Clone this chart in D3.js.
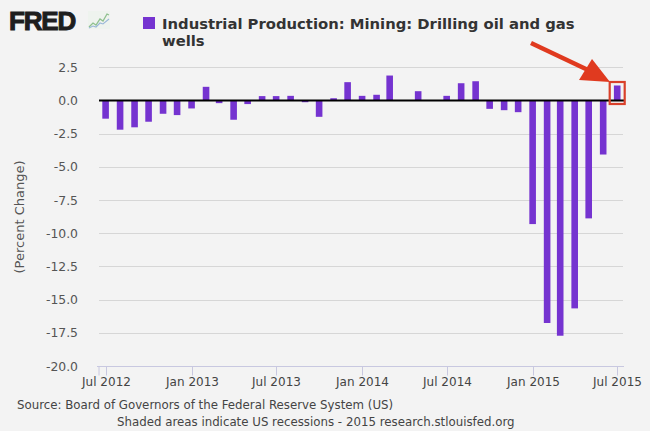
<!DOCTYPE html>
<html><head><meta charset="utf-8">
<script src="https://cdn.jsdelivr.net/npm/d3@7"></script>
<style>
html,body{margin:0;padding:0;background:#f3f3f3;}
svg{display:block;}
</style></head>
<body>
<script>
// ---- data ----
const months = ["2012-07","2012-08","2012-09","2012-10","2012-11","2012-12",
"2013-01","2013-02","2013-03","2013-04","2013-05","2013-06","2013-07","2013-08","2013-09","2013-10","2013-11","2013-12",
"2014-01","2014-02","2014-03","2014-04","2014-05","2014-06","2014-07","2014-08","2014-09","2014-10","2014-11","2014-12",
"2015-01","2015-02","2015-03","2015-04","2015-05","2015-06","2015-07"];
const values = [-1.37,-2.2,-2.02,-1.6,-1.0,-1.1,
-0.6,1.03,-0.2,-1.45,-0.27,0.33,0.33,0.35,-0.13,-1.23,0.17,1.38,
0.35,0.43,1.88,0,0.7,0,0.35,1.3,1.45,-0.63,-0.73,-0.88,
-9.31,-16.76,-17.72,-15.66,-8.88,-4.07,1.13];
const yTicks = [2.5,0,-2.5,-5,-7.5,-10,-12.5,-15,-17.5,-20];
const xTicks = ["2012-07","2013-01","2013-07","2014-01","2014-07","2015-01","2015-07"];
const seriesTitle = ["Industrial Production: Mining: Drilling oil and gas","wells"];
const yLabel = "(Percent Change)";
const footer = ["Source: Board of Governors of the Federal Reserve System (US)",
"Shaded areas indicate US recessions - 2015 research.stlouisfed.org"];

const W=650,H=431;
const parse=d3.timeParse("%Y-%m");
const fmt=d3.timeFormat("%b %Y");
const svg=d3.select("body").append("svg").attr("width",W).attr("height",H);
svg.append("rect").attr("width",W).attr("height",H).attr("fill","#f3f3f3");

const x=d3.scaleTime().domain([parse("2012-07"),parse("2015-07")]).range([105.6,617.2]);
const y=d3.scaleLinear().domain([-20,2.5]).range([366,67.3]);
const plotL=99, plotR=623;
const barColor="#7533d0";
const font="DejaVu Sans, Verdana, sans-serif";

// gridlines
svg.append("g").selectAll("line").data(yTicks.filter(d=>d!==-20)).join("line")
 .attr("x1",plotL).attr("x2",plotR).attr("y1",d=>Math.round(y(d))+0.5).attr("y2",d=>Math.round(y(d))+0.5)
 .attr("stroke","#d6d6d6").attr("stroke-width",1);

// y tick labels
svg.append("g").selectAll("text").data(yTicks).join("text")
 .attr("x",78).attr("y",d=>y(d)+4.5).attr("text-anchor","end")
 .attr("font-family",font).attr("font-size",12.4).attr("fill","#555")
 .text(d=>d3.format(".1f")(d).replace("−","-"));

// x axis
const xa=svg.append("g").attr("transform",`translate(0,${Math.round(y(-20))+0.5})`);
xa.append("line").attr("x1",plotL-2).attr("x2",plotR+1).attr("stroke","#c8c8e0");
xa.append("line").attr("x1",plotL).attr("x2",plotL).attr("y1",0).attr("y2",9).attr("stroke","#c8c8e0");
const xt=xa.selectAll("g.t").data(xTicks.map(parse)).join("g").attr("class","t")
 .attr("transform",d=>`translate(${Math.round(x(d))+0.5},0)`);
xt.append("line").attr("y1",0).attr("y2",9).attr("stroke","#c8c8e0");
xt.append("text").attr("y",19.5).attr("text-anchor","middle")
 .attr("font-family",font).attr("font-size",12).attr("fill","#444").text(d=>fmt(d));

// bars
const bw=6.6;
svg.append("g").selectAll("rect").data(months.map((m,i)=>({d:parse(m),v:values[i]}))).join("rect")
 .attr("x",d=>x(d.d)-bw/2).attr("width",bw)
 .attr("y",d=>Math.min(y(d.v),y(0))).attr("height",d=>Math.abs(y(d.v)-y(0)))
 .attr("fill",barColor);

// zero line
svg.append("line").attr("x1",plotL).attr("x2",plotR+2).attr("y1",y(0)).attr("y2",y(0))
 .attr("stroke","#000").attr("stroke-width",2);

// y label
svg.append("text").attr("transform",`translate(24,217) rotate(-90)`).attr("text-anchor","middle")
 .attr("font-family",font).attr("font-size",13).attr("fill","#555").text(yLabel);

// legend
svg.append("rect").attr("x",143).attr("y",17).attr("width",12).attr("height",12).attr("fill",barColor);
const lt=svg.append("text").attr("font-family",font).attr("font-weight","bold").attr("font-size",14.8).attr("fill","#333");
lt.append("tspan").attr("x",162).attr("y",29).text(seriesTitle[0]);
lt.append("tspan").attr("x",162).attr("y",46).text(seriesTitle[1]);

// footer
svg.append("text").attr("x",17).attr("y",409).attr("font-family",font).attr("font-size",11.8).attr("fill","#444").text(footer[0]);
svg.append("text").attr("x",117).attr("y",426).attr("font-family",font).attr("font-size",11.8).attr("fill","#444").text(footer[1]);

// FRED logo
svg.append("text").attr("x",9).attr("y",30).attr("font-family","Liberation Sans, Arial, sans-serif")
 .attr("font-weight","bold").attr("font-size",26).attr("letter-spacing",-1.2).attr("fill","#1e1e1e")
 .attr("stroke","#1e1e1e").attr("stroke-width",1).text("FRED");
const ic=svg.append("g").attr("transform","translate(88,11)");
ic.append("rect").attr("width",22).attr("height",18).attr("fill","#eef3ee");
ic.append("polyline").attr("points","1,16 5,12 8,14 12,8 15,10 19,3 21,4").attr("fill","none").attr("stroke","#8fc08f").attr("stroke-width",1.3);
ic.append("polyline").attr("points","1,17 5,15 8,16 12,12 15,13 21,8").attr("fill","none").attr("stroke","#9ab8d8").attr("stroke-width",1.1);

// arrow annotation
const red="#e03a1f";
svg.append("line").attr("x1",531).attr("y1",43).attr("x2",588).attr("y2",70).attr("stroke",red).attr("stroke-width",4.5);
svg.append("polygon").attr("points","610,82 579,80 592,59").attr("fill",red);
const lb=x(parse("2015-07"));
svg.append("rect").attr("x",lb-7.5).attr("y",82).attr("width",15).attr("height",22)
 .attr("fill","none").attr("stroke","#d9402a").attr("stroke-width",2.2);
</script>
</body></html>
